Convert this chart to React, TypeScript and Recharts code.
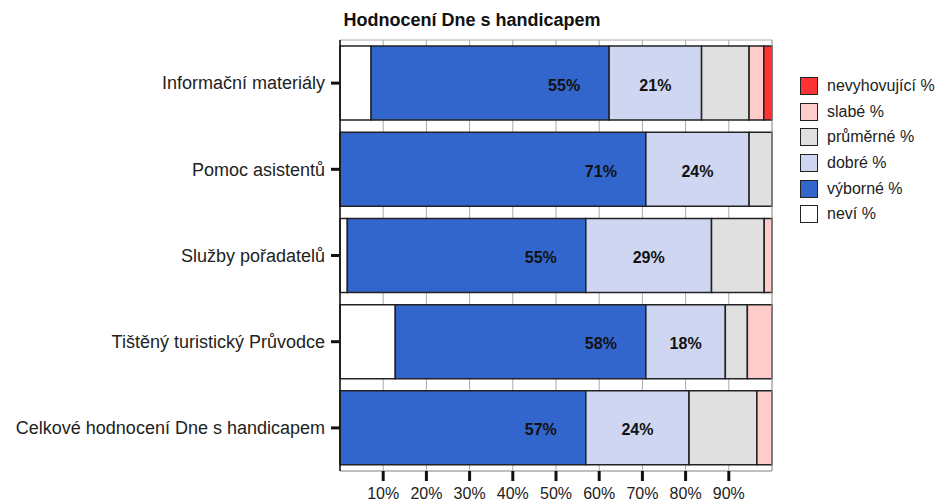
import {
  BarChart,
  Bar,
  XAxis,
  YAxis,
  CartesianGrid,
  Legend,
  LabelList,
  ReferenceLine,
} from 'recharts';

const categories = [
  'Informační materiály',
  'Pomoc asistentů',
  'Služby pořadatelů',
  'Tištěný turistický Průvodce',
  'Celkové hodnocení Dne s handicapem',
];

const nevi = [7.2, 0, 1.7, 12.8, 0];
const vyborne = [55.1, 70.8, 55.2, 58.0, 56.9];
const dobre = [21.4, 23.9, 29.1, 18.4, 23.9];
const prumerne = [11.0, 5.3, 12.2, 5.1, 15.7];
const slabe = [3.4, 0, 1.8, 5.7, 3.5];
const nevyhovujici = [1.9, 0, 0, 0, 0];

const xTicks = [10, 20, 30, 40, 50, 60, 70, 80, 90];

const data = categories.map((name, i) => ({
  name,
  nevi: nevi[i],
  vyborne: vyborne[i],
  dobre: dobre[i],
  prumerne: prumerne[i],
  slabe: slabe[i],
  nevyhovujici: nevyhovujici[i],
}));

const series = [
  { key: 'nevi', name: 'neví %', color: '#ffffff' },
  { key: 'vyborne', name: 'výborné %', color: '#3366cc' },
  { key: 'dobre', name: 'dobré %', color: '#cfd6f2' },
  { key: 'prumerne', name: 'průměrné %', color: '#e0e0e0' },
  { key: 'slabe', name: 'slabé %', color: '#ffcccc' },
  { key: 'nevyhovujici', name: 'nevyhovující %', color: '#ff3333' },
];

const FONT = '"Liberation Sans", Arial, sans-serif';

const pct = (v: any) => `${Math.round(Number(v))}%`;

// výborné labels sit near the right end of the bar
const endLabel = (props: any) => {
  const { x, y, width, height, value } = props;
  return (
    <text
      x={x + width - 45}
      y={y + height / 2 + 2}
      textAnchor="middle"
      dominantBaseline="central"
      fontSize={16}
      fontWeight="bold"
      fill="#111"
    >
      {pct(value)}
    </text>
  );
};

const midLabel = (props: any) => {
  const { x, y, width, height, value } = props;
  return (
    <text
      x={x + width / 2}
      y={y + height / 2 + 2}
      textAnchor="middle"
      dominantBaseline="central"
      fontSize={16}
      fontWeight="bold"
      fill="#111"
    >
      {pct(value)}
    </text>
  );
};

const renderLegend = () => {
  const items = [...series].reverse();
  return (
    <div>
      {items.map((item) => (
        <div
          key={item.key}
          style={{ display: 'flex', alignItems: 'center', height: 25.7, fontSize: 16, color: '#222' }}
        >
          <span
            style={{
              width: 16,
              height: 16,
              background: item.color,
              border: '1.5px solid #222',
              marginRight: 9,
              display: 'inline-block',
            }}
          />
          {item.name}
        </div>
      ))}
    </div>
  );
};

export default function App() {
  return (
    <div style={{ position: 'absolute', left: 0, top: 0, width: 948, height: 502, fontFamily: FONT, background: '#fff' }}>
      <div
        style={{
          position: 'absolute',
          top: 9,
          left: 0,
          width: 944,
          textAlign: 'center',
          fontSize: 18,
          fontWeight: 'bold',
          lineHeight: '22px',
          color: '#111',
        }}
      >
        Hodnocení Dne s handicapem
      </div>
      <BarChart
        layout="vertical"
        width={948}
        height={502}
        data={data}
        margin={{ top: 40, right: 28, left: 0, bottom: 0 }}
        barCategoryGap="7%"
        style={{ fontFamily: FONT }}
      >
        <CartesianGrid
          stroke="#aaa"
          horizontalCoordinatesGenerator={({ offset }: any) => [offset.top, offset.top + offset.height]}
        />
        <XAxis
          type="number"
          domain={[0, 100]}
          ticks={xTicks}
          interval={0}
          tickFormatter={(v) => `${v}%`}
          height={31}
          tickSize={10}
          tickMargin={7}
          axisLine={{ stroke: '#aaa' }}
          tickLine={{ stroke: '#111', strokeWidth: 3 }}
          tick={{ fontSize: 16, fill: '#222' }}
        />
        <YAxis
          type="category"
          dataKey="name"
          width={340}
          tickSize={9}
          tickMargin={6}
          axisLine={{ stroke: '#111', strokeWidth: 1.5 }}
          tickLine={{ stroke: '#111', strokeWidth: 3 }}
          tick={{ fontSize: 18, fill: '#222' }}
        />
        <ReferenceLine x={100} stroke="#aaa" />
        <Legend
          layout="vertical"
          align="right"
          verticalAlign="top"
          content={renderLegend}
          wrapperStyle={{ position: 'absolute', left: 800, top: 73, width: 148 }}
        />
        {series.map((s) => (
          <Bar
            key={s.key}
            dataKey={s.key}
            name={s.name}
            stackId="a"
            fill={s.color}
            stroke="#222"
            strokeWidth={1.5}
            isAnimationActive={false}
          >
            {s.key === 'vyborne' && <LabelList dataKey={s.key} content={endLabel} />}
            {s.key === 'dobre' && <LabelList dataKey={s.key} content={midLabel} />}
          </Bar>
        ))}
      </BarChart>
    </div>
  );
}
